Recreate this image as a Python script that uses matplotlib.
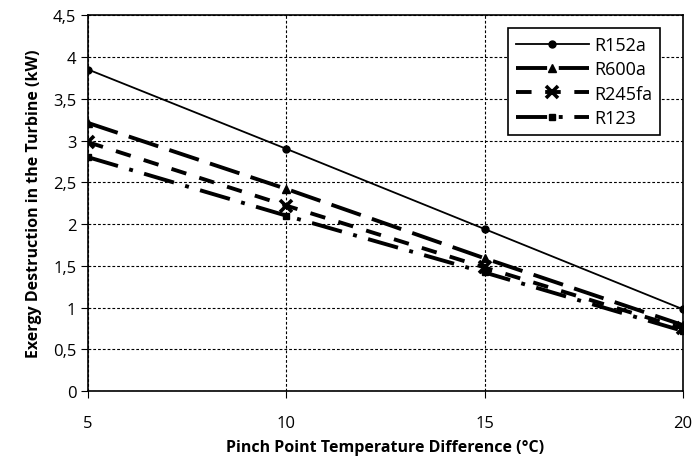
import numpy as np
import matplotlib
matplotlib.use("Agg")
import matplotlib.pyplot as plt
from matplotlib.ticker import FuncFormatter

plt.rcParams['font.family'] = ['Open Sans', 'DejaVu Sans']

pinch = [5, 10, 15, 20]
r152a = [3.85, 2.90, 1.94, 0.98]
r600a = [3.21, 2.42, 1.59, 0.79]
r245fa = [2.98, 2.22, 1.48, 0.75]
r123 = [2.80, 2.10, 1.42, 0.72]

fig = plt.figure(figsize=(6.94, 4.64), dpi=100)
ax = fig.add_axes([0.127, 0.155, 0.857, 0.81])

ax.plot(pinch, r152a, color='black', lw=1.3, marker='o', ms=5, label='R152a')
ax.plot(pinch, r600a, color='black', lw=2.8, dashes=(8, 3), marker='^', ms=6, label='R600a')
ax.plot(pinch, r245fa, color='black', lw=2.8, dashes=(4, 3.5), marker='x', ms=9, mew=2.6, label='R245fa')
ax.plot(pinch, r123, color='black', lw=2.8, dashes=(8, 3, 1, 3), marker='s', ms=5, label='R123')

ax.set_xlim(5, 20)
ax.set_ylim(0, 4.5)
ax.set_xticks([5, 10, 15, 20])
ax.set_yticks(np.arange(0, 4.51, 0.5))
ax.yaxis.set_major_formatter(FuncFormatter(lambda v, p: ('%g' % v).replace('.', ',')))
ax.grid(True, color='black', ls=(0, (2.5, 1.8)), lw=0.8)
ax.tick_params(labelsize=12, direction='out', length=5, color='black')
ax.tick_params(axis='x', pad=12)
for s in ax.spines.values():
    s.set_linewidth(1.2)

ax.set_xlabel('Pinch Point Temperature Difference (°C)', fontsize=11.5, fontweight='bold', labelpad=6)
ax.set_ylabel('Exergy Destruction in the Turbine (kW)', fontsize=11.5, fontweight='bold', labelpad=8)

leg = ax.legend(loc='upper right', fontsize=13, fancybox=False, framealpha=1,
                edgecolor='black', handlelength=4.0, borderpad=0.45, labelspacing=0.35,
                handletextpad=0.3, bbox_to_anchor=(0.977, 0.99))
leg.get_frame().set_linewidth(1.2)

fig.savefig('out.png', dpi=100)
